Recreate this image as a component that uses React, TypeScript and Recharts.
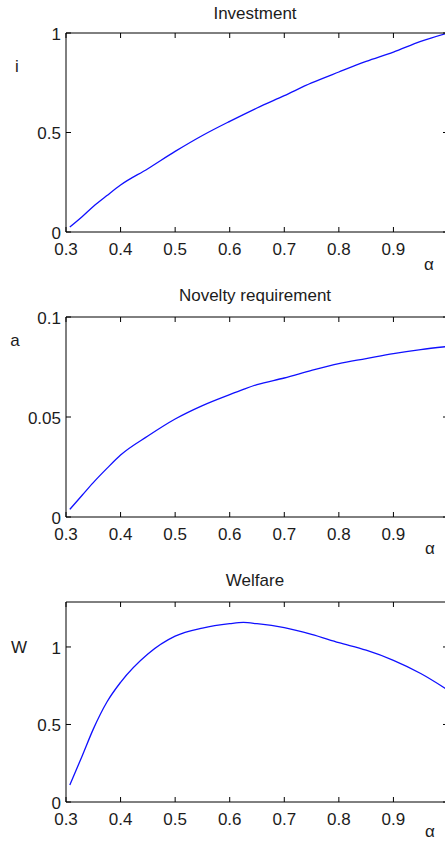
import { LineChart, Line, XAxis, YAxis } from "recharts";

const alpha = [0.307, 0.33, 0.35, 0.375, 0.4, 0.45, 0.5, 0.55, 0.6, 0.625, 0.65, 0.7, 0.75, 0.8, 0.85, 0.9, 0.95, 1.0];
const investment = [0.025, 0.078, 0.128, 0.183, 0.236, 0.318, 0.405, 0.485, 0.556, 0.59, 0.623, 0.685, 0.749, 0.804, 0.857, 0.904, 0.958, 1.0];
const novelty = [0.0038, 0.011, 0.0172, 0.0243, 0.031, 0.0405, 0.049, 0.0557, 0.0612, 0.0638, 0.0662, 0.0695, 0.0733, 0.0767, 0.0792, 0.0817, 0.0837, 0.0853];
const welfare = [0.11, 0.3, 0.47, 0.645, 0.772, 0.955, 1.07, 1.122, 1.15, 1.158, 1.15, 1.124, 1.081, 1.028, 0.979, 0.914, 0.829, 0.722];

const xTicks = [0.3, 0.4, 0.5, 0.6, 0.7, 0.8, 0.9];

const data = alpha.map((a, k) => ({ alpha: a, i: investment[k], a: novelty[k], w: welfare[k] }));

const FONT = '"Liberation Sans", Arial, sans-serif';
const TXT = "#1c1c1c";

const BottomTick = (props: any) => {
  const { x, y, payload } = props;
  return (
    <g>
      <line x1={x} y1={y} x2={x} y2={y - 5} stroke="#000" />
      <text x={x} y={y + 10} dy="0.75em" textAnchor="middle" fontSize={17} fontFamily={FONT} fill={TXT}>
        {payload.value}
      </text>
    </g>
  );
};

const TopTick = (props: any) => {
  const { x, y } = props;
  return <line x1={x} y1={y} x2={x} y2={y + 5} stroke="#000" />;
};

const LeftTick = (props: any) => {
  const { x, y, payload } = props;
  return (
    <g>
      <line x1={x} y1={y} x2={x + 5} y2={y} stroke="#000" />
      <text x={x - 5} y={y} dy="0.4em" textAnchor="end" fontSize={17} fontFamily={FONT} fill={TXT}>
        {payload.value}
      </text>
    </g>
  );
};

const RightTick = (props: any) => {
  const { x, y } = props;
  return <line x1={x} y1={y} x2={x - 5} y2={y} stroke="#000" />;
};

function Panel({ top, plotH, dataKey, yMax, yTicks }: { top: number; plotH: number; dataKey: string; yMax: number; yTicks: number[] }) {
  return (
    <div style={{ position: "absolute", left: 0, top }}>
      <LineChart width={449} height={20 + plotH + 40} data={data} margin={{ top: 19, right: 0, left: 0, bottom: 0 }}>
        <XAxis xAxisId="top" orientation="top" dataKey="alpha" type="number" domain={[0.3, 1]} ticks={xTicks}
          height={1} tickSize={0} tickMargin={0} tickLine={false} tick={<TopTick />} stroke="#000" allowDataOverflow />
        <XAxis xAxisId="b" orientation="bottom" dataKey="alpha" type="number" domain={[0.3, 1]} ticks={xTicks}
          height={40} tickSize={0} tickMargin={0} tickLine={false} tick={<BottomTick />} stroke="#000" allowDataOverflow />
        <YAxis yAxisId="l" orientation="left" type="number" domain={[0, yMax]} ticks={yTicks} width={66}
          tickSize={0} tickMargin={0} tickLine={false} tick={<LeftTick />} stroke="#000" allowDataOverflow />
        <YAxis yAxisId="r" orientation="right" type="number" domain={[0, yMax]} ticks={yTicks} width={1}
          tickSize={0} tickMargin={0} tickLine={false} tick={<RightTick />} stroke="#000" allowDataOverflow />
        <Line xAxisId="b" yAxisId="l" dataKey={dataKey} type="monotone" stroke="#1010ff" strokeWidth={1.3}
          dot={false} isAnimationActive={false} />
      </LineChart>
    </div>
  );
}

const label = (text: string, x: number, y: number, size = 17) => (
  <div style={{ position: "absolute", left: x, top: y, transform: "translate(-50%, -50%)", fontFamily: FONT,
    fontSize: size, color: TXT, whiteSpace: "nowrap", lineHeight: 1 }}>{text}</div>
);

export default function App() {
  return (
    <div style={{ position: "absolute", left: 0, top: 0, width: 445, height: 841, overflow: "hidden", background: "#fff" }}>
      <Panel top={13} plotH={199} dataKey="i" yMax={1} yTicks={[0, 0.5, 1]} />
      <Panel top={297} plotH={200} dataKey="a" yMax={0.1} yTicks={[0, 0.05, 0.1]} />
      <Panel top={582} plotH={200} dataKey="w" yMax={1.29} yTicks={[0, 0.5, 1]} />
      {label("Investment", 255, 13)}
      {label("Novelty requirement", 255, 295)}
      {label("Welfare", 255, 580)}
      {label("i", 17, 66)}
      {label("a", 15, 340)}
      {label("W", 19, 647)}
      {label("α", 429, 264)}
      {label("α", 430, 548)}
      {label("α", 430, 831)}
    </div>
  );
}
